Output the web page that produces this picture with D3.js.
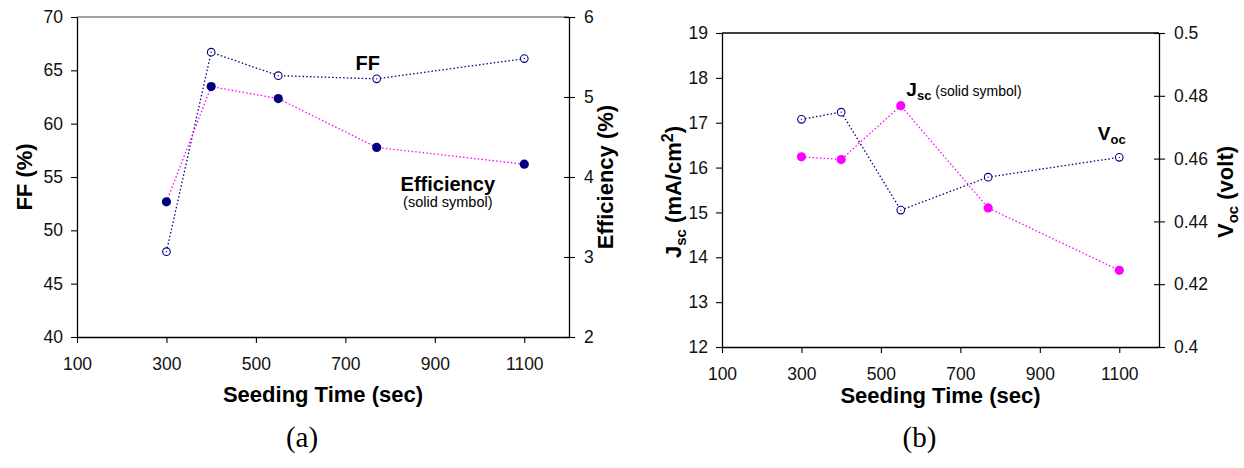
<!DOCTYPE html>
<html>
<head>
<meta charset="utf-8">
<script src="https://cdn.jsdelivr.net/npm/d3@7"></script>
<style>
  body { margin: 0; background: #fff; }
</style>
</head>
<body>
<script>
// seeding time (sec) for each sample
const seedTime = [300, 400, 550, 770, 1100];
// panel (a)
const ffValues = [48.0, 66.7, 64.5, 64.2, 66.1];
const effValues = [3.69, 5.13, 4.98, 4.37, 4.16];
// panel (b)
const jscValues = [16.24, 16.18, 17.38, 15.10, 13.71];
const vocValues = [0.4725, 0.4748, 0.4436, 0.4541, 0.4604];

const xTicks = [100, 300, 500, 700, 900, 1100];
const ffTicks = [40, 45, 50, 55, 60, 65, 70];
const effTicks = [2, 3, 4, 5, 6];
const jscTicks = [12, 13, 14, 15, 16, 17, 18, 19];
const vocTicks = [0.4, 0.42, 0.44, 0.46, 0.48, 0.5];

const navy = "#000080", magenta = "#ff00ff";
const sans = "'Liberation Sans', Arial, sans-serif";

const svg = d3.select("body").append("svg")
  .attr("width", 1244)
  .attr("height", 468)
  .style("font-family", sans);

function drawPanel(p) {
  const x = d3.scaleLinear().domain([100, 1200]).range([p.left, p.right]);
  const yL = d3.scaleLinear().domain(p.leftDomain).range([p.bottom, p.top]);
  const yR = d3.scaleLinear().domain(p.rightDomain).range([p.bottom, p.top]);

  const g = svg.append("g");

  // top border
  g.append("line")
    .attr("x1", p.left).attr("x2", p.right)
    .attr("y1", p.top).attr("y2", p.top)
    .attr("stroke", p.topColor).attr("stroke-width", 1.3);

  // bottom axis
  const xa = g.append("g")
    .attr("transform", `translate(0,${p.bottom})`)
    .call(d3.axisBottom(x).tickValues(xTicks).tickSize(6).tickSizeOuter(0).tickPadding(15)
      .tickFormat(d => d));

  // left axis
  const la = g.append("g")
    .attr("transform", `translate(${p.left},0)`)
    .call(d3.axisLeft(yL).tickValues(p.leftTicks).tickSize(6).tickSizeOuter(0).tickPadding(8)
      .tickFormat(d => d));

  // right axis, ticks cross the line
  const ra = g.append("g")
    .attr("transform", `translate(${p.right},0)`)
    .call(d3.axisRight(yR).tickValues(p.rightTicks).tickSize(6).tickSizeOuter(0).tickPadding(9)
      .tickFormat(d => d));
  ra.selectAll(".tick line").attr("x1", -5);

  [xa, la, ra].forEach(a => {
    a.attr("font-family", null).attr("font-size", null);
    a.selectAll("path").attr("stroke", "#000").attr("stroke-width", 1.3);
    a.selectAll(".tick line").attr("stroke", "#000").attr("stroke-width", 1.1);
    a.selectAll("text").style("font-size", "17.5px").attr("fill", "#111");
  });

  // series
  p.series.forEach(s => {
    const y = s.axis === "left" ? yL : yR;
    const pts = seedTime.map((t, i) => [t, s.values[i]]);
    g.append("path")
      .datum(pts)
      .attr("fill", "none")
      .attr("stroke", s.lineColor)
      .attr("stroke-width", 1.3)
      .attr("stroke-dasharray", "1.5,2.2")
      .attr("d", d3.line().x(d => x(d[0])).y(d => y(d[1])));
    const c = g.selectAll(null).data(pts).join("g")
      .attr("transform", d => `translate(${x(d[0])},${y(d[1])})`);
    if (s.solid) {
      c.append("circle").attr("r", 4.6).attr("fill", s.markColor);
    } else {
      c.append("circle").attr("r", 3.8).attr("fill", "#fff")
        .attr("stroke", s.markColor).attr("stroke-width", 1.1);
      c.append("circle").attr("r", 0.7).attr("fill", s.markColor);
    }
  });

  // axis titles
  const cx = (p.left + p.right) / 2;
  g.append("text")
    .attr("x", cx).attr("y", p.bottom + p.xTitleOffset)
    .attr("text-anchor", "middle")
    .attr("font-size", 22).attr("font-weight", "bold")
    .text("Seeding Time (sec)");

  const cy = p.titleY;
  const lt = g.append("text")
    .attr("transform", `translate(${p.leftTitleX},${cy}) rotate(-90)`)
    .attr("text-anchor", "middle").attr("dy", "0.36em")
    .attr("font-size", 22).attr("font-weight", "bold");
  p.leftTitle(lt);

  const rt = g.append("text")
    .attr("transform", `translate(${p.rightTitleX},${cy}) rotate(-90)`)
    .attr("text-anchor", "middle").attr("dy", "0.36em")
    .attr("font-size", 22).attr("font-weight", "bold");
  p.rightTitle(rt);

  // panel letter
  g.append("text")
    .attr("x", cx - 21).attr("y", 447)
    .attr("text-anchor", "middle")
    .style("font-family", "'Liberation Serif', 'Times New Roman', serif")
    .attr("font-size", 29)
    .text(p.letter);

  p.notes(g, x, yL, yR);
}

// panel (a)
drawPanel({
  left: 77, right: 569, top: 17, bottom: 337,
  topColor: "#808080",
  leftDomain: [40, 70], rightDomain: [2, 6],
  leftTicks: ffTicks, rightTicks: effTicks,
  xTitleOffset: 65,
  titleY: 177, leftTitleX: 24, rightTitleX: 605,
  letter: "(a)",
  leftTitle: t => t.text("FF (%)"),
  rightTitle: t => t.text("Efficiency (%)"),
  series: [
    { values: ffValues, axis: "left", lineColor: navy, markColor: navy, solid: false },
    { values: effValues, axis: "right", lineColor: magenta, markColor: navy, solid: true }
  ],
  notes: (g, x, yL, yR) => {
    g.append("text").attr("x", x(750)).attr("y", yL(65.05))
      .attr("text-anchor", "middle").attr("font-size", 20).attr("font-weight", "bold")
      .text("FF");
    g.append("text").attr("x", x(929)).attr("y", yR(3.82))
      .attr("text-anchor", "middle").attr("font-size", 20).attr("font-weight", "bold")
      .text("Efficiency");
    g.append("text").attr("x", x(929)).attr("y", yR(3.62))
      .attr("text-anchor", "middle").attr("font-size", 14.5)
      .text("(solid symbol)");
  }
});

// panel (b)
drawPanel({
  left: 722, right: 1159, top: 33, bottom: 347,
  topColor: "#000",
  leftDomain: [12, 19], rightDomain: [0.4, 0.5],
  leftTicks: jscTicks, rightTicks: vocTicks,
  xTitleOffset: 56,
  titleY: 192, leftTitleX: 673, rightTitleX: 1225,
  letter: "(b)",
  leftTitle: t => {
    t.append("tspan").text("J");
    t.append("tspan").attr("font-size", 15).attr("dy", 5).text("sc");
    t.append("tspan").attr("dy", -5).text(" (mA/cm");
    t.append("tspan").attr("font-size", 16).attr("dy", -8).text("2");
    t.append("tspan").attr("dy", 8).text(")");
  },
  rightTitle: t => {
    t.append("tspan").text("V");
    t.append("tspan").attr("font-size", 15).attr("dy", 5).text("oc");
    t.append("tspan").attr("dy", -5).text(" (volt)");
  },
  series: [
    { values: vocValues, axis: "right", lineColor: navy, markColor: navy, solid: false },
    { values: jscValues, axis: "left", lineColor: magenta, markColor: magenta, solid: true }
  ],
  notes: (g, x, yL, yR) => {
    const j = g.append("text").attr("x", x(564)).attr("y", yL(17.6))
      .attr("font-size", 19).attr("font-weight", "bold");
    j.append("tspan").text("J");
    j.append("tspan").attr("font-size", 13).attr("dy", 4).text("sc");
    j.append("tspan").attr("dy", -4).attr("font-size", 14).attr("font-weight", "normal")
      .text(" (solid symbol)");
    const v = g.append("text").attr("x", x(1046)).attr("y", yR(0.4659))
      .attr("font-size", 19).attr("font-weight", "bold");
    v.append("tspan").text("V");
    v.append("tspan").attr("font-size", 13).attr("dy", 4).text("oc");
  }
});
</script>
</body>
</html>
